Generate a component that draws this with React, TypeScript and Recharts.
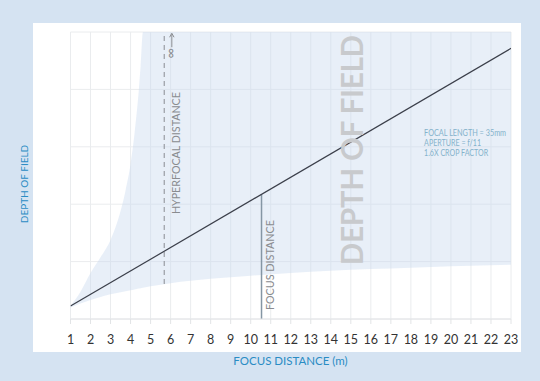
import React from "react";
import {
  ComposedChart,
  Area,
  Line,
  XAxis,
  YAxis,
  CartesianGrid,
  ReferenceLine,
  ReferenceDot,
} from "recharts";

// focus distance samples (m)
const distances = [1, 1.5, 2, 2.5, 3, 3.5, 3.75, 4, 4.2, 4.4, 4.5, 4.62, 5, 6, 7, 8, 10, 12, 14, 16, 18, 20, 23];
// near limit of depth of field (chart units)
const nearLimit = [4.0, 5.4, 6.6, 7.7, 8.6, 9.3, 9.7, 10.0, 10.3, 10.6, 10.7, 10.9, 11.4, 12.5, 13.3, 14.0, 15.1, 16.0, 16.8, 17.4, 17.9, 18.4, 18.9];
// far limit of depth of field (chart units, 100 = infinity)
const farLimit = [4.6, 9.5, 16, 21.5, 27.5, 37.6, 44.8, 54, 64.7, 78.8, 88, 100, 100, 100, 100, 100, 100, 100, 100, 100, 100, 100, 100];

// focus line (diagonal)
const focusLineX = [1, 23];
const focusLineY = [4.5, 94.3];

const xTicks = [1, 2, 3, 4, 5, 6, 7, 8, 9, 10, 11, 12, 13, 14, 15, 16, 17, 18, 19, 20, 21, 22, 23];
const yTicks = [0, 20, 40, 60, 80, 100];

const hyperfocal = 5.68;
const hyperNear = 12.2;
const focusMark = 10.54;
const focusMarkTop = 43.4;

const infoLines = ["FOCAL LENGTH = 35mm", "APERTURE = f/11", "1.6X CROP FACTOR"];
const infoWidths = [82, 57, 64];

const areaData = distances.map((d, i) => ({ x: d, range: [nearLimit[i], farLimit[i]] }));
const lineData = focusLineX.map((x, i) => ({ x, y: focusLineY[i] }));

const FONT = "Lato, 'Open Sans', sans-serif";

const center = (p: any) => {
  const vb = p.viewBox || {};
  return { cx: vb.x + vb.width / 2, cy: vb.y + vb.height / 2 };
};

export default function App() {
  return (
    <div
      style={{
        position: "fixed",
        left: 0,
        top: 0,
        width: 540,
        height: 381,
        background: "#d5e3f2",
        overflow: "hidden",
        fontFamily: FONT,
      }}
    >
      <div
        style={{
          position: "absolute",
          left: 33,
          top: 23,
          width: 488,
          height: 329,
          background: "#ffffff",
        }}
      />
      <div style={{ position: "absolute", left: 0, top: 0 }}>
        <ComposedChart
          width={540}
          height={381}
          margin={{ top: 32, right: 29, bottom: 32, left: 70.5 }}
        >
          <CartesianGrid
            stroke="#eaecee"
            strokeWidth={1}
            verticalValues={xTicks}
            horizontalValues={yTicks}
          />
          <XAxis
            dataKey="x"
            type="number"
            domain={[1, 23]}
            ticks={xTicks}
            allowDataOverflow
            height={30}
            axisLine={{ stroke: "#e2e4e6" }}
            tickLine={{ stroke: "#e2e4e6" }}
            tickSize={5}
            tickMargin={11}
            tick={{ fill: "#333333", fontSize: 12.5, fontFamily: FONT }}
            interval={0}
          />
          <YAxis type="number" domain={[0, 100]} ticks={yTicks} hide />
          <Area
            data={areaData}
            dataKey="range"
            type="monotone"
            stroke="none"
            fill="#c9d8ee"
            fillOpacity={0.42}
            isAnimationActive={false}
          />
          <ReferenceLine
            segment={[
              { x: hyperfocal, y: hyperNear },
              { x: hyperfocal, y: 100 },
            ]}
            stroke="#8a8d92"
            strokeWidth={1}
            strokeDasharray="5 4"
          />
          <ReferenceLine
            segment={[
              { x: focusMark, y: 0 },
              { x: focusMark, y: focusMarkTop },
            ]}
            stroke="#8596a4"
            strokeWidth={1.5}
          />
          <Line
            data={lineData}
            dataKey="y"
            type="linear"
            stroke="#3b3f4a"
            strokeWidth={1.2}
            dot={false}
            isAnimationActive={false}
          />
          {/* big DEPTH OF FIELD watermark */}
          <ReferenceDot
            x={15.01}
            y={58.9}
            r={1}
            fill="none"
            stroke="none"
            label={{
              content: (p: any) => {
                const { cx, cy } = center(p);
                return (
                  <text
                    x={cx}
                    y={cy}
                    transform={`rotate(-90 ${cx} ${cy})`}
                    textAnchor="middle"
                    dominantBaseline="central"
                    fontFamily={FONT}
                    fontWeight={700}
                    fontSize={30}
                    fill="#c8cacd"
                    textLength={230}
                    lengthAdjust="spacingAndGlyphs"
                  >
                    DEPTH OF FIELD
                  </text>
                );
              },
            }}
          />
          {/* hyperfocal label */}
          <ReferenceDot
            x={hyperfocal}
            y={57.8}
            r={1}
            fill="none"
            stroke="none"
            label={{
              content: (p: any) => {
                const { cx, cy } = center(p);
                const tx = cx + 11;
                return (
                  <text
                    x={tx}
                    y={cy}
                    transform={`rotate(-90 ${tx} ${cy})`}
                    textAnchor="middle"
                    dominantBaseline="central"
                    fontFamily={FONT}
                    fontSize={11}
                    fill="#8a8c90"
                    textLength={122}
                    lengthAdjust="spacingAndGlyphs"
                  >
                    HYPERFOCAL DISTANCE
                  </text>
                );
              },
            }}
          />
          {/* focus distance label */}
          <ReferenceDot
            x={focusMark}
            y={18.8}
            r={1}
            fill="none"
            stroke="none"
            label={{
              content: (p: any) => {
                const { cx, cy } = center(p);
                const tx = cx + 7.5;
                return (
                  <text
                    x={tx}
                    y={cy}
                    transform={`rotate(-90 ${tx} ${cy})`}
                    textAnchor="middle"
                    dominantBaseline="central"
                    fontFamily={FONT}
                    fontSize={11}
                    fill="#8a8c90"
                    textLength={90}
                    lengthAdjust="spacingAndGlyphs"
                  >
                    FOCUS DISTANCE
                  </text>
                );
              },
            }}
          />
          {/* infinity marker with arrow */}
          <ReferenceDot
            x={6.11}
            y={92.6}
            r={1}
            fill="none"
            stroke="none"
            label={{
              content: (p: any) => {
                const { cx, cy } = center(p);
                const ax = cx - 1;
                return (
                  <g>
                    <line x1={ax} y1={cy - 6} x2={ax} y2={cy - 19} stroke="#8a8c90" strokeWidth={1} />
                    <path d={`M${ax - 2.2},${cy - 16} L${ax},${cy - 20} L${ax + 2.2},${cy - 16}`} fill="none" stroke="#8a8c90" strokeWidth={1} />
                    <text
                      x={cx}
                      y={cy}
                      transform={`rotate(90 ${cx} ${cy})`}
                      textAnchor="middle"
                      dominantBaseline="central"
                      fontFamily={FONT}
                      fontSize={14}
                      fill="#8a8c90"
                    >
                      ∞
                    </text>
                  </g>
                );
              },
            }}
          />
          {/* info text */}
          <ReferenceDot
            x={18.66}
            y={64.9}
            r={1}
            fill="none"
            stroke="none"
            label={{
              content: (p: any) => {
                const { cx, cy } = center(p);
                return (
                  <g>
                    {infoLines.map((t, i) => (
                      <text
                        key={t}
                        x={cx}
                        y={cy + i * 10}
                        dominantBaseline="central"
                        fontFamily={FONT}
                        fontSize={8.5}
                        fill="#84b2cb"
                        textLength={infoWidths[i]}
                        lengthAdjust="spacingAndGlyphs"
                      >
                        {t}
                      </text>
                    ))}
                  </g>
                );
              },
            }}
          />
        </ComposedChart>
      </div>
      <div
        style={{
          position: "absolute",
          left: 290.5,
          top: 360.5,
          transform: "translate(-50%, -50%)",
          whiteSpace: "nowrap",
          color: "#2a8cc4",
          fontSize: 11.5,
          fontFamily: FONT,
          lineHeight: 1,
        }}
      >
        FOCUS DISTANCE (m)
      </div>
      <div
        style={{
          position: "absolute",
          left: 24,
          top: 183.5,
          transform: "translate(-50%, -50%) rotate(-90deg)",
          whiteSpace: "nowrap",
          color: "#2a8cc4",
          fontSize: 10,
          fontFamily: FONT,
          lineHeight: 1,
        }}
      >
        DEPTH OF FIELD
      </div>
    </div>
  );
}
